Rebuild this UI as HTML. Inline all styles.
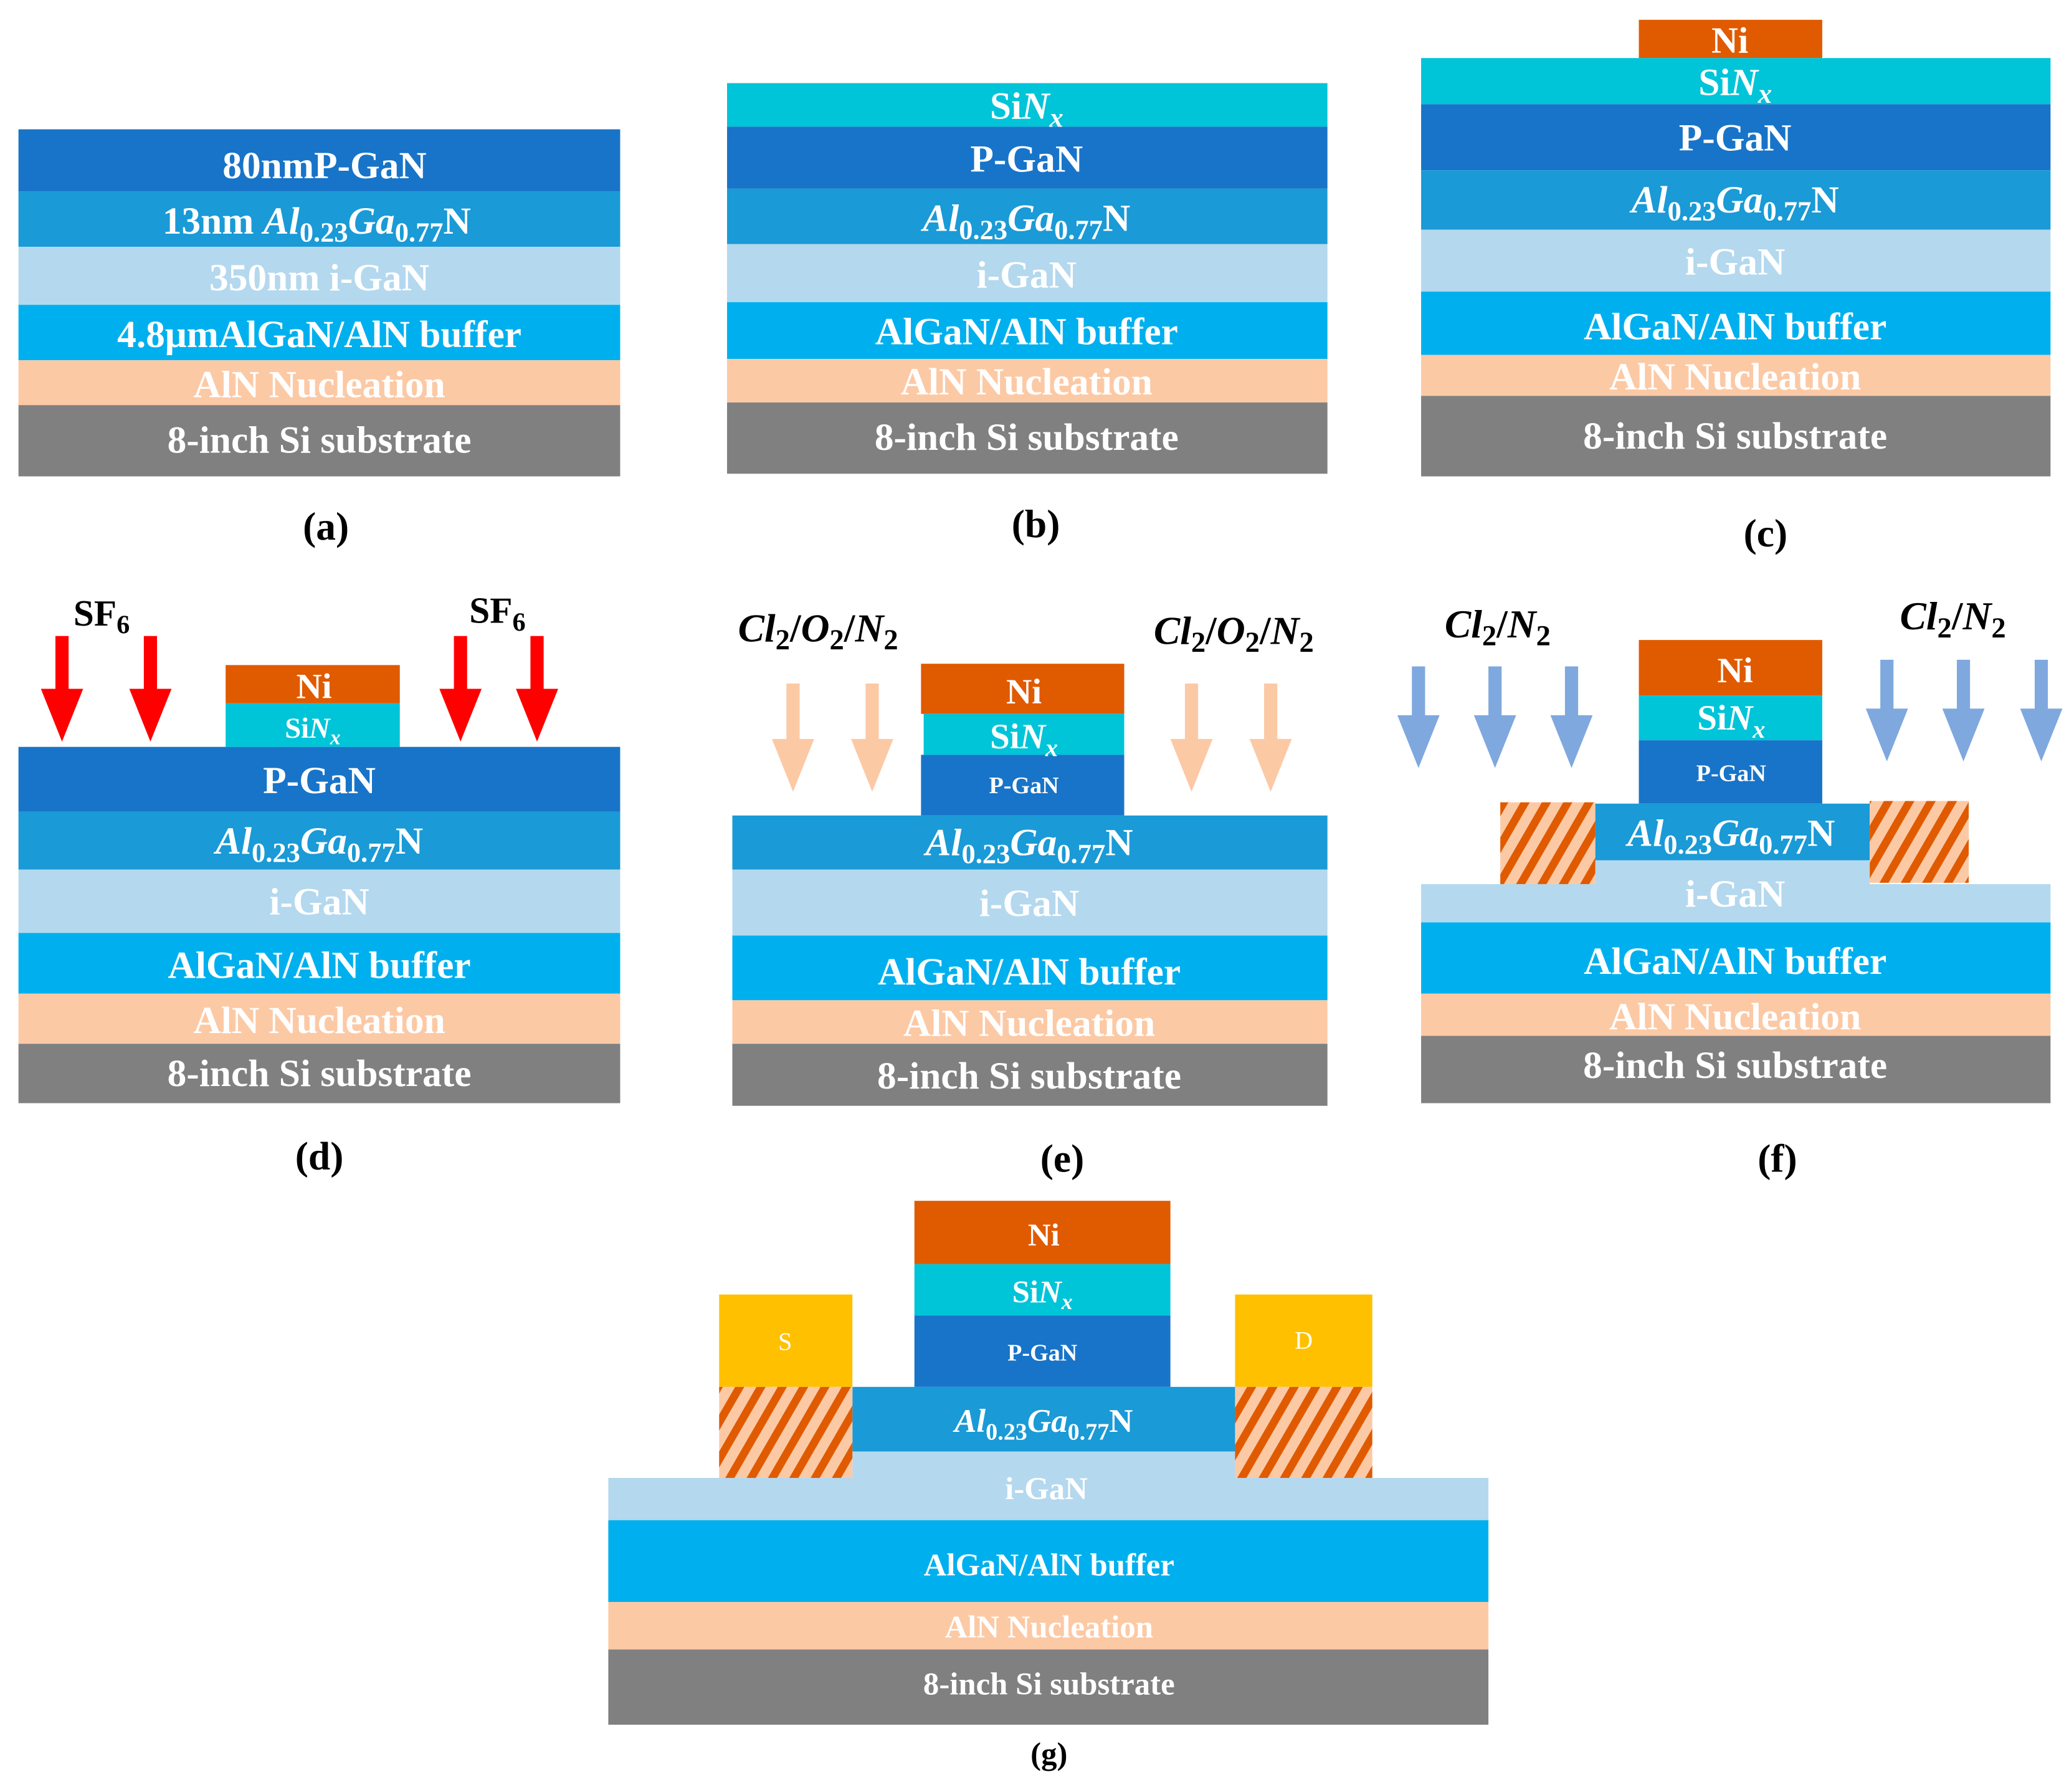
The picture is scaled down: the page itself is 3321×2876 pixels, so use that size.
<!DOCTYPE html>
<html><head><meta charset="utf-8"><style>
html,body{margin:0;padding:0;background:#fff;}
svg{display:block;}
text{font-family:"Liberation Serif",serif;font-weight:bold;fill:#fff;text-anchor:middle;}
.k{fill:#000;}
</style></head><body>
<svg width="3321" height="2876" viewBox="0 0 1568 1358" preserveAspectRatio="none" xmlns="http://www.w3.org/2000/svg">
<defs>
<pattern id="h" patternUnits="userSpaceOnUse" width="14" height="14" patternTransform="rotate(30)">
<rect width="14" height="14" fill="#fcc9a5"/><rect width="6" height="14" fill="#e05a00"/>
</pattern>
</defs>
<rect width="1568" height="1358" fill="#fff"/>

<!-- (a) -->
<g>
<rect x="14" y="98" width="456" height="47" fill="#1874c8"/>
<rect x="14" y="145" width="456" height="42" fill="#1a9ad6"/>
<rect x="14" y="187" width="456" height="44" fill="#b4d8ee"/>
<rect x="14" y="231" width="456" height="42" fill="#00b0ee"/>
<rect x="14" y="273" width="456" height="34" fill="#fcc9a5"/>
<rect x="14" y="307" width="456" height="54" fill="#808080"/>
<text x="246" y="135" font-size="29">80nmP-GaN</text>
<text x="240" y="177" font-size="29">13nm <tspan font-style="italic">Al</tspan><tspan font-size="21" dy="6">0.23</tspan><tspan font-style="italic" dy="-6">Ga</tspan><tspan font-size="21" dy="6">0.77</tspan><tspan dy="-6">N</tspan></text>
<text x="242" y="220" font-size="29">350nm i-GaN</text>
<text x="242" y="263" font-size="29">4.8μmAlGaN/AlN buffer</text>
<text x="242" y="301" font-size="29">AlN Nucleation</text>
<text x="242" y="343" font-size="29">8-inch Si substrate</text>
<text class="k" x="247" y="409" font-size="30">(a)</text>
</g>

<!-- (b) -->
<g>
<rect x="551" y="63" width="455" height="33" fill="#00c4d8"/>
<rect x="551" y="96" width="455" height="47" fill="#1874c8"/>
<rect x="551" y="143" width="455" height="42" fill="#1a9ad6"/>
<rect x="551" y="185" width="455" height="44" fill="#b4d8ee"/>
<rect x="551" y="229" width="455" height="43" fill="#00b0ee"/>
<rect x="551" y="272" width="455" height="33" fill="#fcc9a5"/>
<rect x="551" y="305" width="455" height="54" fill="#808080"/>
<text x="778" y="90" font-size="29">Si<tspan font-style="italic">N</tspan><tspan font-style="italic" font-size="21" dy="6">x</tspan></text>
<text x="778" y="130" font-size="29">P-GaN</text>
<text x="778" y="175" font-size="29"><tspan font-style="italic">Al</tspan><tspan font-size="21" dy="6">0.23</tspan><tspan font-style="italic" dy="-6">Ga</tspan><tspan font-size="21" dy="6">0.77</tspan><tspan dy="-6">N</tspan></text>
<text x="778" y="218" font-size="29">i-GaN</text>
<text x="778" y="261" font-size="29">AlGaN/AlN buffer</text>
<text x="778" y="299" font-size="29">AlN Nucleation</text>
<text x="778" y="341" font-size="29">8-inch Si substrate</text>
<text class="k" x="785" y="407" font-size="30">(b)</text>
</g>

<!-- (c) -->
<g>
<rect x="1242" y="15" width="139" height="29" fill="#e05a00"/>
<rect x="1077" y="44" width="477" height="35" fill="#00c4d8"/>
<rect x="1077" y="79" width="477" height="50" fill="#1874c8"/>
<rect x="1077" y="129" width="477" height="45" fill="#1a9ad6"/>
<rect x="1077" y="174" width="477" height="47" fill="#b4d8ee"/>
<rect x="1077" y="221" width="477" height="48" fill="#00b0ee"/>
<rect x="1077" y="269" width="477" height="31" fill="#fcc9a5"/>
<rect x="1077" y="300" width="477" height="61" fill="#808080"/>
<text x="1311" y="40" font-size="28">Ni</text>
<text x="1315" y="72" font-size="29">Si<tspan font-style="italic">N</tspan><tspan font-style="italic" font-size="21" dy="6">x</tspan></text>
<text x="1315" y="114" font-size="29">P-GaN</text>
<text x="1315" y="161" font-size="29"><tspan font-style="italic">Al</tspan><tspan font-size="21" dy="6">0.23</tspan><tspan font-style="italic" dy="-6">Ga</tspan><tspan font-size="21" dy="6">0.77</tspan><tspan dy="-6">N</tspan></text>
<text x="1315" y="208" font-size="29">i-GaN</text>
<text x="1315" y="257" font-size="29">AlGaN/AlN buffer</text>
<text x="1315" y="295" font-size="29">AlN Nucleation</text>
<text x="1315" y="340" font-size="29">8-inch Si substrate</text>
<text class="k" x="1338" y="414" font-size="30">(c)</text>
</g>

<!-- (d) -->
<g>
<rect x="171" y="504" width="132" height="29" fill="#e05a00"/>
<rect x="171" y="533" width="132" height="33" fill="#00c4d8"/>
<rect x="14" y="566" width="456" height="49" fill="#1874c8"/>
<rect x="14" y="615" width="456" height="44" fill="#1a9ad6"/>
<rect x="14" y="659" width="456" height="48" fill="#b4d8ee"/>
<rect x="14" y="707" width="456" height="46" fill="#00b0ee"/>
<rect x="14" y="753" width="456" height="38" fill="#fcc9a5"/>
<rect x="14" y="791" width="456" height="45" fill="#808080"/>
<text x="238" y="529" font-size="27">Ni</text>
<text x="237" y="559" font-size="22">Si<tspan font-style="italic">N</tspan><tspan font-style="italic" font-size="16" dy="5">x</tspan></text>
<text x="242" y="601" font-size="29">P-GaN</text>
<text x="242" y="647" font-size="29"><tspan font-style="italic">Al</tspan><tspan font-size="21" dy="6">0.23</tspan><tspan font-style="italic" dy="-6">Ga</tspan><tspan font-size="21" dy="6">0.77</tspan><tspan dy="-6">N</tspan></text>
<text x="242" y="693" font-size="29">i-GaN</text>
<text x="242" y="741" font-size="29">AlGaN/AlN buffer</text>
<text x="242" y="783" font-size="29">AlN Nucleation</text>
<text x="242" y="823" font-size="29">8-inch Si substrate</text>
<g fill="#ff0000">
<path d="M42 482h10v40h11l-16 40l-16-40h11z"/>
<path d="M109 482h10v40h11l-16 40l-16-40h11z"/>
<path d="M344 482h10v40h11l-16 40l-16-40h11z"/>
<path d="M402 482h10v40h11l-16 40l-16-40h11z"/>
</g>
<text class="k" x="77" y="474" font-size="28">SF<tspan font-size="20" dy="6">6</tspan></text>
<text class="k" x="377" y="472" font-size="28">SF<tspan font-size="20" dy="6">6</tspan></text>
<text class="k" x="242" y="886" font-size="30">(d)</text>
</g>

<!-- (e) -->
<g>
<rect x="698" y="503" width="154" height="38" fill="#e05a00"/>
<rect x="700" y="541" width="152" height="31" fill="#00c4d8"/>
<rect x="698" y="572" width="154" height="46" fill="#1874c8"/>
<rect x="555" y="618" width="451" height="41" fill="#1a9ad6"/>
<rect x="555" y="659" width="451" height="50" fill="#b4d8ee"/>
<rect x="555" y="709" width="451" height="49" fill="#00b0ee"/>
<rect x="555" y="758" width="451" height="33" fill="#fcc9a5"/>
<rect x="555" y="791" width="451" height="47" fill="#808080"/>
<text x="776" y="533" font-size="27">Ni</text>
<text x="776" y="567" font-size="27">Si<tspan font-style="italic">N</tspan><tspan font-style="italic" font-size="19" dy="6">x</tspan></text>
<text x="776" y="601" font-size="18">P-GaN</text>
<text x="780" y="648" font-size="29"><tspan font-style="italic">Al</tspan><tspan font-size="21" dy="6">0.23</tspan><tspan font-style="italic" dy="-6">Ga</tspan><tspan font-size="21" dy="6">0.77</tspan><tspan dy="-6">N</tspan></text>
<text x="780" y="694" font-size="29">i-GaN</text>
<text x="780" y="746" font-size="29">AlGaN/AlN buffer</text>
<text x="780" y="785" font-size="29">AlN Nucleation</text>
<text x="780" y="825" font-size="29">8-inch Si substrate</text>
<g fill="#fcc9a5">
<path d="M596 518h10v42h11l-16 40l-16-40h11z"/>
<path d="M656 518h10v42h11l-16 40l-16-40h11z"/>
<path d="M898 518h10v42h11l-16 40l-16-40h11z"/>
<path d="M958 518h10v42h11l-16 40l-16-40h11z"/>
</g>
<text class="k" x="620" y="486" font-size="30"><tspan font-style="italic">Cl</tspan><tspan font-size="22" dy="6">2</tspan><tspan dy="-6">/</tspan><tspan font-style="italic">O</tspan><tspan font-size="22" dy="6">2</tspan><tspan dy="-6">/</tspan><tspan font-style="italic">N</tspan><tspan font-size="22" dy="6">2</tspan></text>
<text class="k" x="935" y="488" font-size="30"><tspan font-style="italic">Cl</tspan><tspan font-size="22" dy="6">2</tspan><tspan dy="-6">/</tspan><tspan font-style="italic">O</tspan><tspan font-size="22" dy="6">2</tspan><tspan dy="-6">/</tspan><tspan font-style="italic">N</tspan><tspan font-size="22" dy="6">2</tspan></text>
<text class="k" x="805" y="888" font-size="30">(e)</text>
</g>

<!-- (f) -->
<g>
<rect x="1242" y="485" width="139" height="42" fill="#e05a00"/>
<rect x="1242" y="527" width="139" height="34" fill="#00c4d8"/>
<rect x="1242" y="561" width="139" height="48" fill="#1874c8"/>
<rect x="1209" y="609" width="208" height="43" fill="#1a9ad6"/>
<rect x="1209" y="652" width="208" height="18" fill="#b4d8ee"/>
<rect x="1137" y="608" width="72" height="62" fill="url(#h)"/>
<rect x="1417" y="607" width="75" height="62" fill="url(#h)"/>
<rect x="1077" y="670" width="477" height="29" fill="#b4d8ee"/>
<rect x="1077" y="699" width="477" height="54" fill="#00b0ee"/>
<rect x="1077" y="753" width="477" height="32" fill="#fcc9a5"/>
<rect x="1077" y="785" width="477" height="51" fill="#808080"/>
<text x="1315" y="517" font-size="27">Ni</text>
<text x="1312" y="553" font-size="27">Si<tspan font-style="italic">N</tspan><tspan font-style="italic" font-size="19" dy="6">x</tspan></text>
<text x="1312" y="592" font-size="18">P-GaN</text>
<text x="1312" y="641" font-size="29"><tspan font-style="italic">Al</tspan><tspan font-size="21" dy="6">0.23</tspan><tspan font-style="italic" dy="-6">Ga</tspan><tspan font-size="21" dy="6">0.77</tspan><tspan dy="-6">N</tspan></text>
<text x="1315" y="687" font-size="29">i-GaN</text>
<text x="1315" y="738" font-size="29">AlGaN/AlN buffer</text>
<text x="1315" y="780" font-size="29">AlN Nucleation</text>
<text x="1315" y="817" font-size="29">8-inch Si substrate</text>
<g fill="#7fa8de">
<path d="M1070 505h10v37h11l-16 40l-16-40h11z"/>
<path d="M1128 505h10v37h11l-16 40l-16-40h11z"/>
<path d="M1186 505h10v37h11l-16 40l-16-40h11z"/>
<path d="M1425 500h10v37h11l-16 40l-16-40h11z"/>
<path d="M1483 500h10v37h11l-16 40l-16-40h11z"/>
<path d="M1542 500h10v37h11l-16 40l-16-40h11z"/>
</g>
<text class="k" x="1135" y="483" font-size="30"><tspan font-style="italic">Cl</tspan><tspan font-size="22" dy="6">2</tspan><tspan dy="-6">/</tspan><tspan font-style="italic">N</tspan><tspan font-size="22" dy="6">2</tspan></text>
<text class="k" x="1480" y="477" font-size="30"><tspan font-style="italic">Cl</tspan><tspan font-size="22" dy="6">2</tspan><tspan dy="-6">/</tspan><tspan font-style="italic">N</tspan><tspan font-size="22" dy="6">2</tspan></text>
<text class="k" x="1347" y="888" font-size="30">(f)</text>
</g>

<!-- (g) -->
<g>
<rect x="693" y="910" width="194" height="48" fill="#e05a00"/>
<rect x="693" y="958" width="194" height="39" fill="#00c4d8"/>
<rect x="693" y="997" width="194" height="54" fill="#1874c8"/>
<rect x="646" y="1051" width="290" height="49" fill="#1a9ad6"/>
<rect x="646" y="1100" width="290" height="20" fill="#b4d8ee"/>
<rect x="545" y="981" width="101" height="70" fill="#ffc000"/>
<rect x="936" y="981" width="104" height="70" fill="#ffc000"/>
<rect x="545" y="1051" width="101" height="69" fill="url(#h)"/>
<rect x="936" y="1051" width="104" height="69" fill="url(#h)"/>
<rect x="461" y="1120" width="667" height="32" fill="#b4d8ee"/>
<rect x="461" y="1152" width="667" height="62" fill="#00b0ee"/>
<rect x="461" y="1214" width="667" height="36" fill="#fcc9a5"/>
<rect x="461" y="1250" width="667" height="57" fill="#808080"/>
<text x="791" y="944" font-size="24">Ni</text>
<text x="790" y="987" font-size="24">Si<tspan font-style="italic">N</tspan><tspan font-style="italic" font-size="17" dy="5">x</tspan></text>
<text x="790" y="1031" font-size="18">P-GaN</text>
<text x="791" y="1085" font-size="25"><tspan font-style="italic">Al</tspan><tspan font-size="18" dy="6">0.23</tspan><tspan font-style="italic" dy="-6">Ga</tspan><tspan font-size="18" dy="6">0.77</tspan><tspan dy="-6">N</tspan></text>
<text x="595" y="1023" font-size="19" style="font-weight:normal">S</text>
<text x="988" y="1022" font-size="19" style="font-weight:normal">D</text>
<text x="793" y="1136" font-size="24">i-GaN</text>
<text x="795" y="1194" font-size="24">AlGaN/AlN buffer</text>
<text x="795" y="1241" font-size="24">AlN Nucleation</text>
<text x="795" y="1284" font-size="24">8-inch Si substrate</text>
<text class="k" x="795" y="1337" font-size="24">(g)</text>
</g>
</svg>
</body></html>
